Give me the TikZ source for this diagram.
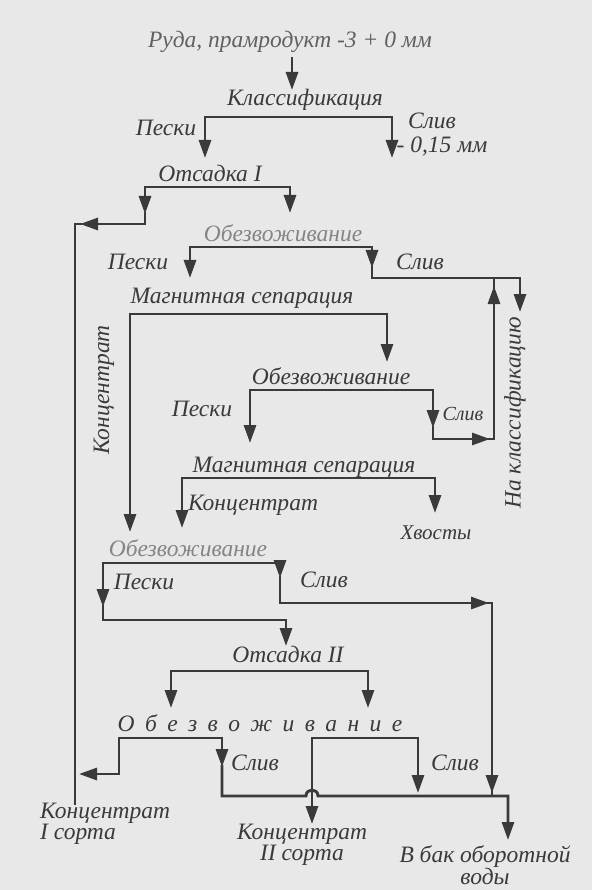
\documentclass[tikz,border=0pt]{standalone}
\usepackage{fontspec}
\setmainfont{Liberation Serif}
\usetikzlibrary{arrows.meta}
\definecolor{bg}{HTML}{E8E8E8}
\definecolor{ink}{HTML}{3A3A3A}
\definecolor{inkl}{HTML}{858585}
\newcommand\lgap{\hspace{10.4pt}}
\begin{document}
\begin{tikzpicture}[x=1pt,y=-1pt,
  >={Triangle[length=18pt,width=12pt]},
  flow/.style={draw=ink, line width=2.9pt, line join=miter},
  lbl/.style={font=\fontsize{23.5}{18.5}\selectfont\itshape, text=ink, inner sep=0pt, align=center},
  faint/.style={text=inkl},
  smalllbl/.style={font=\fontsize{20}{20}\selectfont\itshape}]
\fill[bg] (0,0) rectangle (592,890);
\useasboundingbox (0,0) rectangle (592,890);

% ---- labels ----
\node[lbl,text=ink!80] (feed) at (290,42) {Руда, прамродукт -3 + 0 мм};
\node[lbl] (klass) at (305,100) {Классификация};
\node[lbl] (peski1) at (166,128) {Пески};
\node[lbl] (sliv1) at (432,121) {Слив};
\node[lbl] (fine) at (442,146) {- 0,15 мм};
\node[lbl] (ots1) at (210,173) {Отсадка I};
\node[lbl,faint] (ob1) at (283,233) {Обезвоживание};
\node[lbl] (peski2) at (138,262) {Пески};
\node[lbl] (sliv2) at (420,262) {Слив};
\node[lbl] (ms1) at (242,298) {Магнитная сепарация};
\node[lbl,rotate=90] (konc1) at (104,390) {Концентрат};
\node[lbl] (ob2) at (331,376) {Обезвоживание};
\node[lbl] (peski3) at (202,409) {Пески};
\node[lbl,smalllbl] (sliv3) at (463,414) {Слив};
\node[lbl] (ms2) at (304,467) {Магнитная сепарация};
\node[lbl] (konc2) at (253,505) {Концентрат};
\node[lbl,font=\fontsize{21}{21}\selectfont\itshape] (tail) at (436,533) {Хвосты};
\node[lbl,rotate=90] (back) at (515,413) {На классификацию};
\node[lbl,faint] (ob3) at (188,548) {Обезвоживание};
\node[lbl] (peski4) at (144,582) {Пески};
\node[lbl] (sliv4) at (324,580) {Слив};
\node[lbl] (ots2) at (288,654) {Отсадка II};
\node[lbl] (ob4) at (260,723) {О\lgap б\lgap е\lgap з\lgap в\lgap о\lgap ж\lgap и\lgap в\lgap а\lgap н\lgap и\lgap е};
\node[lbl] (sliv5) at (255,763) {Слив};
\node[lbl] (sliv6) at (455,763) {Слив};
\node[lbl,align=left,anchor=west] (grade1) at (40,824) {Концентрат\\I сорта};
\node[lbl] (grade2) at (302,845) {Концентрат\\II сорта};
\node[lbl] (water) at (485,865) {В бак оборотной\\воды};

% ---- junction coordinates ----
\coordinate (leftmain) at (75,224);
\coordinate (leftend) at (75,805);
\coordinate (rightret) at (494,278);
\coordinate (rightdrop) at (492,603);
\coordinate (bottomline) at (508,796);
\coordinate (hop) at (312,796);

% ---- connectors ----
\draw[flow,->] (292,57) -- (292,90);
% Classification
\draw[flow,<->] (205,158) -- (205,117) -- (392,117) -- (392,158);
% Jig I
\draw[flow,<->] (145,214) -- (145,187) -- (290,187) -- (290,213);
\draw[flow,->] (145,212) -- (145,224) -- (80,224);
\draw[flow] (82,224) -- (leftmain) -- (leftend);
% Dewatering 1
\draw[flow,<->] (190,278) -- (190,247) -- (372,247) -- (372,268);
\draw[flow,->] (372,266) -- (372,278) -- (520,278) -- (520,312);
% Magnetic separation 1
\draw[flow,<->] (130,532) -- (130,314) -- (387,314) -- (387,362);
% Dewatering 2
\draw[flow,<->] (250,443) -- (250,390) -- (433,390) -- (433,428);
\draw[flow] (433,426) -- (433,439) -- (494,439) -- (rightret);
\draw[flow,->] (465,439) -- (490,439);
\draw[flow,->] (494,310) -- (494,286);
% Magnetic separation 2
\draw[flow,<->] (182,528) -- (182,478) -- (435,478) -- (435,513);
% Dewatering 3
\draw[flow,<->] (103,607) -- (103,563) -- (280,563) -- (280,578);
\draw[flow,->] (103,605) -- (103,620) -- (286,620) -- (286,646);
\draw[flow] (280,576) -- (280,603) -- (rightdrop) -- (492,796);
\draw[flow,->] (462,603) -- (489,603);
\draw[flow,->] (492,770) -- (492,793);
% Jig II
\draw[flow,<->] (171,708) -- (171,671) -- (368,671) -- (368,708);
% Dewatering 4
\draw[flow,<->] (79,774) -- (119,774) -- (119,738) -- (222,738) -- (222,767);
\draw[flow,->] (222,765) -- (222,796) -- (306,796) .. controls (306,788) and (318,788) .. (318,796) -- (bottomline) -- (508,840);
\draw[flow,<->] (312,824) -- (312,738) -- (418,738) -- (418,793);
\end{tikzpicture}
\end{document}
